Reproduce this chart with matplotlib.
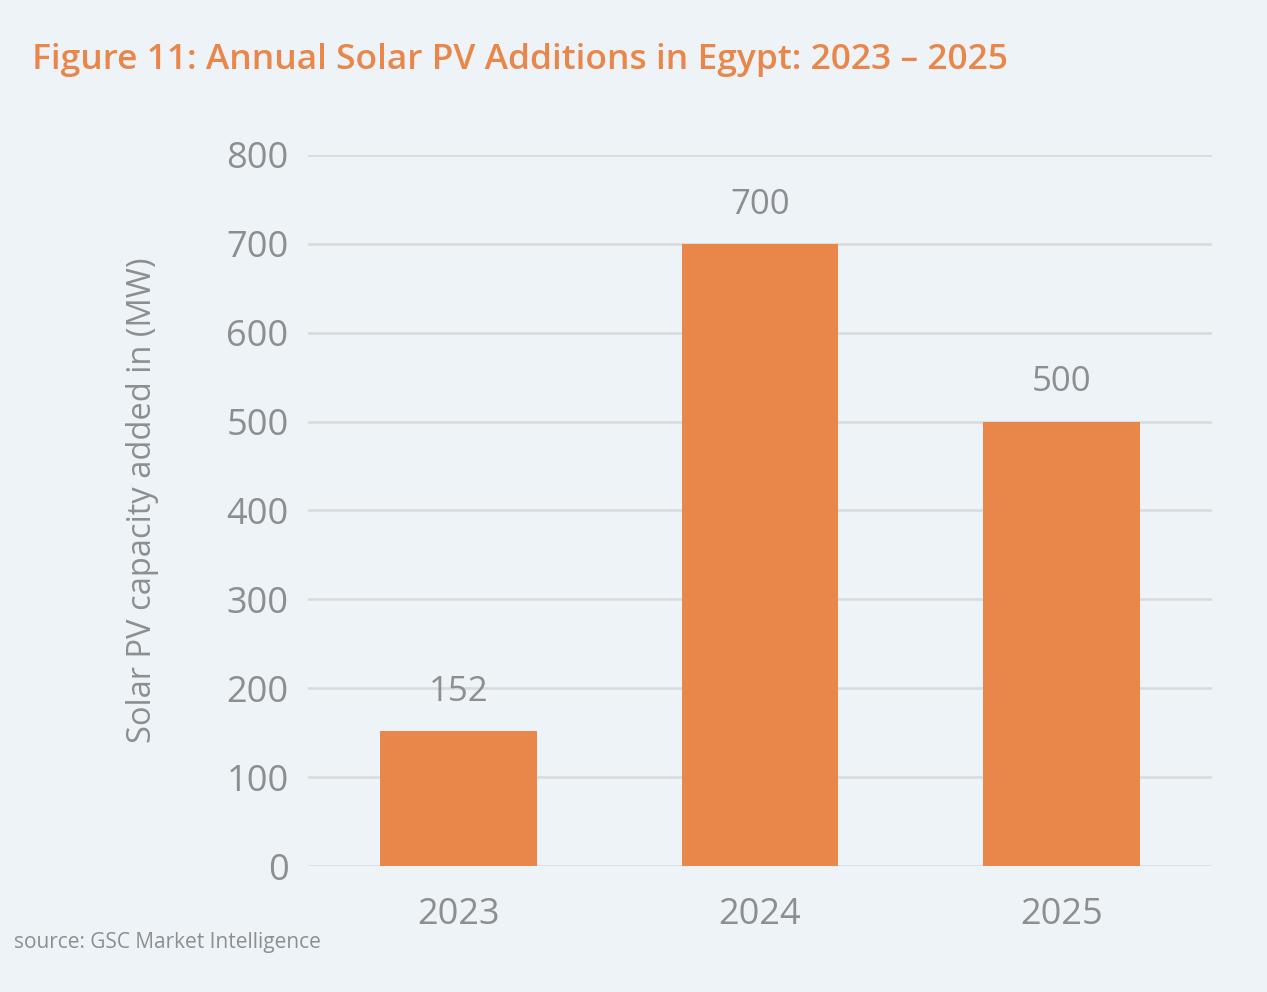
import matplotlib.pyplot as plt

plt.rcParams['font.family'] = ['Open Sans', 'DejaVu Sans']

years = ['2023', '2024', '2025']
capacity_mw = [152, 700, 500]
y_ticks = [0, 100, 200, 300, 400, 500, 600, 700, 800]

bg = '#EDF3F7'
orange = '#E9874A'
gray = '#8C8F91'

fig = plt.figure(figsize=(12.67, 9.92), dpi=100, facecolor=bg)
ax = fig.add_axes([0.2431, 0.127, 0.7135, 0.7168], facecolor=bg)

x = range(len(years))
bars = ax.bar(x, capacity_mw, width=0.52, color=orange, zorder=3)

for b, v in zip(bars, capacity_mw):
    ax.annotate(str(v), (b.get_x() + b.get_width() / 2, v),
                xytext=(0, 16), textcoords='offset points',
                ha='center', va='bottom', fontsize=25, color=gray)

ax.set_xlim(-0.5, 2.5)
ax.set_ylim(0, 800)
ax.set_yticks(y_ticks)
ax.set_xticks(list(x))
ax.set_xticklabels(years)
ax.yaxis.grid(True, color='#D8DADB', linewidth=1.8, zorder=0)
ax.tick_params(axis='both', length=0, labelsize=26, labelcolor=gray)
ax.tick_params(axis='y', pad=14)
ax.tick_params(axis='x', pad=22)
for s in ax.spines.values():
    s.set_visible(False)

ax.set_ylabel('Solar PV capacity added in (MW)', fontsize=23.5, color=gray)
ax.yaxis.set_label_coords(-0.165, 0.515)

fig.text(0.025, 0.94, 'Figure 11: Annual Solar PV Additions in Egypt: 2023 \u2013 2025',
         fontsize=25.5, fontweight='semibold', color=orange, ha='left', va='center')
fig.text(0.011, 0.050, 'source: GSC Market Intelligence', fontsize=15, color=gray,
         ha='left', va='center')

fig.savefig('out.png', dpi=100, facecolor=bg)
